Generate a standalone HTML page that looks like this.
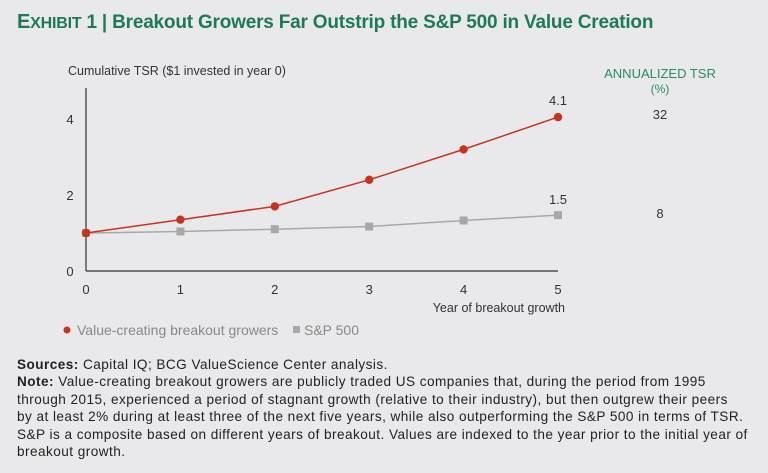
<!DOCTYPE html>
<html><head><meta charset="utf-8"><style>
body{margin:0;width:768px;height:473px;background:#e9e9eb;font-family:"Liberation Sans",sans-serif;position:relative;overflow:hidden}
#title{position:absolute;left:17px;top:11px;font-size:19px;font-weight:bold;color:#1d7a57;letter-spacing:-0.2px}
#notes{position:absolute;left:17px;top:356px;width:750px;font-size:13.6px;letter-spacing:0.45px;line-height:17.4px;color:#222;white-space:nowrap}
svg{position:absolute;left:0;top:0}
</style></head><body>
<div id="title"><span style="font-size:20px">E</span><span style="font-size:16px">XHIBIT</span> 1 | Breakout Growers Far Outstrip the S&amp;P 500 in Value Creation</div>
<svg id="chart" width="768" height="473"></svg>
<div id="notes"><b>Sources:</b> Capital IQ; BCG ValueScience Center analysis.<br><b>Note:</b> Value-creating breakout growers are publicly traded US companies that, during the period from 1995<br>through 2015, experienced a period of stagnant growth (relative to their industry), but then outgrew their peers<br>by at least 2% during at least three of the next five years, while also outperforming the S&amp;P 500 in terms of TSR.<br>S&amp;P is a composite based on different years of breakout. Values are indexed to the year prior to the initial year of<br>breakout growth.</div>
<script>
const years=[0,1,2,3,4,5];
const growers=[1,1.35,1.7,2.4,3.2,4.05];
const sp500=[1,1.04,1.1,1.17,1.33,1.47];
const yTicks=[0,2,4];
const endLabels=["4.1","1.5"];
const annualized=["32","8"];
const NS="http://www.w3.org/2000/svg";
const svg=document.getElementById('chart');
const X=v=>86+v*94.4, Y=v=>271-v*38;
function el(t,a,txt){const e=document.createElementNS(NS,t);for(const k in a)e.setAttribute(k,a[k]);if(txt!=null)e.textContent=txt;svg.appendChild(e);return e;}
let e;
e=el('text',{x:68,y:75,'font-size':12.5,fill:'#333'},'Cumulative TSR ($1 invested in year 0)');


e=el('line',{x1:86,y1:88,x2:86,y2:271,stroke:'#333','stroke-width':1.2});


e=el('line',{x1:86,y1:271,x2:558,y2:271,stroke:'#333','stroke-width':1.2});


yTicks.forEach(t=>{e=el('text',{x:70,y:Y(t)+5,'font-size':13,fill:'#333','text-anchor':'middle'},t);

});
years.forEach(t=>{e=el('text',{x:X(t),y:294,'font-size':13,fill:'#333','text-anchor':'middle'},t);

});
e=el('text',{x:565,y:312,'font-size':12.5,fill:'#333','text-anchor':'end'},'Year of breakout growth');


e=el('polyline',{points:years.map((x,i)=>X(x)+','+Y(sp500[i])).join(' '),fill:'none',stroke:'#a8a8a8','stroke-width':1.5});


years.forEach((x,i)=>{e=el('rect',{x:X(x)-4,y:Y(sp500[i])-4,width:8,height:8,fill:'#a8a8a8'});

});
e=el('polyline',{points:years.map((x,i)=>X(x)+','+Y(growers[i])).join(' '),fill:'none',stroke:'#c8321e','stroke-width':1.5});


years.forEach((x,i)=>{e=el('circle',{cx:X(x),cy:Y(growers[i]),r:4.2,fill:'#c8321e'});

});
e=el('text',{x:X(5),y:Y(growers[5])-12,'font-size':13,fill:'#333','text-anchor':'middle'},endLabels[0]);


e=el('text',{x:X(5),y:Y(sp500[5])-11,'font-size':13,fill:'#333','text-anchor':'middle'},endLabels[1]);


e=el('text',{x:660,y:78,'font-size':13,fill:'#2a8a66','text-anchor':'middle'},'ANNUALIZED TSR');


e=el('text',{x:660,y:93,'font-size':12,fill:'#2a8a66','text-anchor':'middle'},'(%)');


e=el('text',{x:660,y:119,'font-size':13,fill:'#333','text-anchor':'middle'},annualized[0]);


e=el('text',{x:660,y:218,'font-size':13,fill:'#333','text-anchor':'middle'},annualized[1]);


e=el('circle',{cx:67,cy:330,r:3.5,fill:'#c8321e'});


e=el('text',{x:77,y:335,'font-size':14,fill:'#888'},'Value-creating breakout growers');


e=el('rect',{x:293,y:326,width:7,height:7,fill:'#a8a8a8'});


e=el('text',{x:304,y:335,'font-size':14,fill:'#888'},'S&P 500');


</script>
</body></html>
